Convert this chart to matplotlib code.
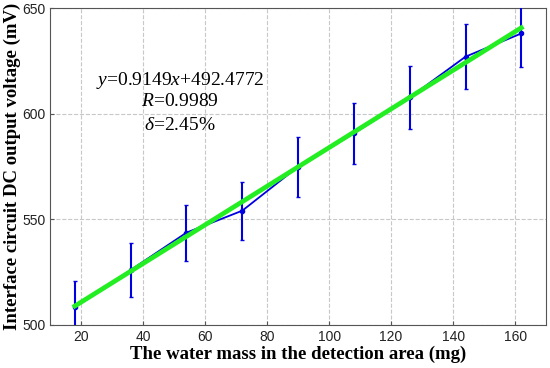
import matplotlib
matplotlib.use("Agg")
import matplotlib.pyplot as plt
import numpy as np

mass = [18, 36, 54, 72, 90, 108, 126, 144, 162]
voltage = [508.5, 526.0, 543.7, 554.1, 574.9, 590.7, 607.7, 627.0, 638.0]
err = [12.3, 12.8, 13.3, 13.7, 14.2, 14.5, 15.0, 15.3, 15.8]

slope = 0.9149
intercept = 492.4772
fit_text = ["$y$=0.9149$x$+492.4772", "$R$=0.9989", "$\\delta$=2.45%"]

plt.rcParams['mathtext.fontset'] = 'custom'
plt.rcParams['mathtext.rm'] = 'Liberation Serif'
plt.rcParams['mathtext.it'] = 'Liberation Serif:italic'

fig = plt.figure(figsize=(5.5, 3.68), dpi=100)
ax = fig.add_axes([0.091, 0.117, 0.902, 0.861])

ax.errorbar(mass, voltage, yerr=err, color='#0000e0', lw=1.3, marker='o',
            ms=3, capsize=1.5, elinewidth=1.5, zorder=3)

# linear fit
xf = np.array([mass[0], mass[-1]])
ax.plot(xf, slope * xf + intercept, color='#22ee22', lw=3.4, zorder=4)

# fit results, one line each
for txt, yy in zip(fit_text, [615.5, 606, 594.5]):
    ax.text(52, yy, txt, ha='center', va='center', fontsize=14,
            family='Liberation Serif')

ax.set_xlim(10, 170)
ax.set_ylim(500, 650)
ax.set_xticks([20, 40, 60, 80, 100, 120, 140, 160])
ax.set_yticks([500, 550, 600, 650])
ax.grid(True, ls='--', color='#c8c8c8', lw=0.8)
ax.tick_params(direction='in', length=3, labelsize=10, color='#555555',
               labelcolor='#222222')
for lab in ax.get_xticklabels() + ax.get_yticklabels():
    lab.set_family('Liberation Sans')
for s in ax.spines.values():
    s.set_color('#555555')

ax.set_xlabel('The water mass in the detection area (mg)', fontsize=13.5,
              fontweight='bold', family='Liberation Serif', labelpad=1)
ax.set_ylabel('Interface circuit DC output voltage (mV)', fontsize=13.5,
              fontweight='bold', family='Liberation Serif', labelpad=1)

fig.savefig('out.png', dpi=100)
